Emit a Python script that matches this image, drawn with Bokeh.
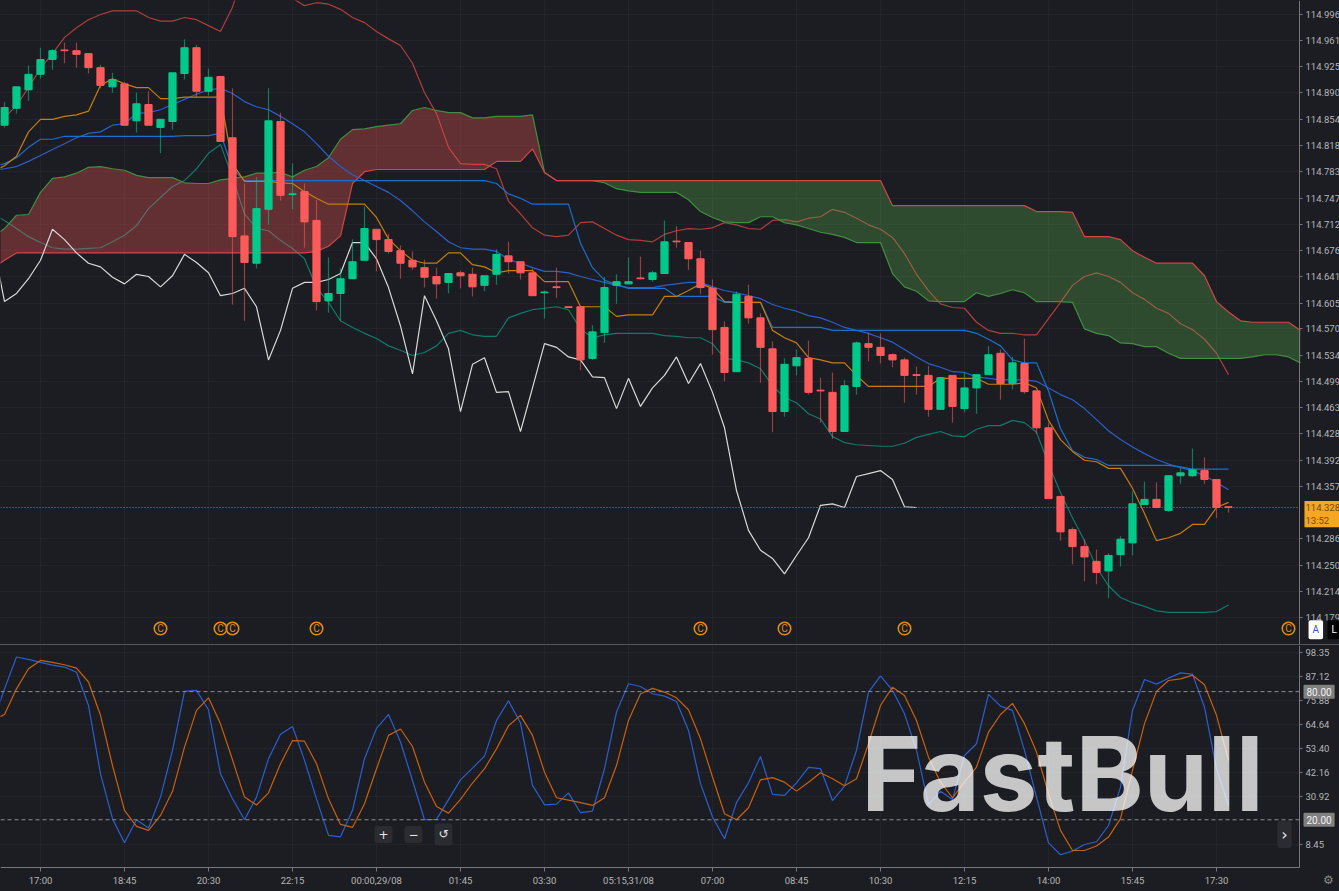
from bokeh.core.properties import value
from bokeh.embed import file_html
from bokeh.layouts import column
from bokeh.models import BoxAnnotation, FixedTicker, GlobalInlineStyleSheet, Label, LinearAxis, PrintfTickFormatter, Range1d
from bokeh.plotting import figure
from bokeh.resources import INLINE
import numpy as np

# 15 minute bars, bar 0 is the first one on screen
open_ = [114.846,114.869,114.894,114.915,114.935,114.948,114.947,114.943,114.924,114.898,
         114.902,114.852,114.874,114.843,114.851,114.916,114.951,114.892,114.912,114.829,
         114.696,114.659,114.732,114.851,114.752,114.756,114.717,114.608,114.618,114.638,
         114.663,114.705,114.691,114.676,114.663,114.653,114.641,114.633,114.646,114.644,
         114.629,114.644,114.669,114.661,114.646,114.619,114.627,114.600,114.600,114.530,
         114.565,114.629,114.631,114.639,114.637,114.645,114.689,114.687,114.665,114.625,
         114.572,114.512,114.614,114.585,114.543,114.458,114.520,114.530,114.487,114.484,
         114.431,114.492,114.550,114.545,114.535,114.528,114.508,114.507,114.461,114.507,
         114.462,114.490,114.508,114.537,114.496,114.523,114.486,114.436,114.343,114.298,
         114.275,114.255,114.242,114.264,114.280,114.332,114.339,114.324,114.371,114.371,
         114.378,114.366,114.329]
high = [114.877,114.898,114.927,114.951,114.949,114.958,114.958,114.943,114.928,114.917,
        114.905,114.890,114.892,114.854,114.917,114.962,114.955,114.923,114.913,114.896,
        114.767,114.776,114.896,114.863,114.794,114.767,114.745,114.667,114.652,114.691,
        114.736,114.705,114.699,114.683,114.675,114.664,114.653,114.645,114.649,114.653,
        114.642,114.678,114.688,114.661,114.652,114.622,114.653,114.600,114.600,114.575,
        114.640,114.644,114.667,114.668,114.649,114.717,114.709,114.687,114.676,114.637,
        114.580,114.621,114.630,114.591,114.553,114.530,114.542,114.554,114.504,114.511,
        114.501,114.553,114.565,114.564,114.537,114.531,114.519,114.520,114.505,114.507,
        114.511,114.508,114.547,114.542,114.532,114.557,114.486,114.443,114.343,114.301,
        114.285,114.271,114.266,114.289,114.350,114.363,114.362,114.371,114.382,114.408,
        114.396,114.366,114.329]
low = [114.843,114.862,114.879,114.909,114.921,114.930,114.924,114.916,114.896,114.890,
       114.846,114.836,114.846,114.808,114.840,114.908,114.884,114.886,114.824,114.603,
       114.581,114.652,114.711,114.744,114.732,114.680,114.595,114.592,114.581,114.638,
       114.663,114.648,114.672,114.638,114.650,114.626,114.611,114.618,114.625,114.614,
       114.621,114.630,114.645,114.637,114.615,114.584,114.612,114.599,114.514,114.528,
       114.551,114.604,114.631,114.637,114.634,114.645,114.680,114.650,114.617,114.535,
       114.499,114.512,114.577,114.497,114.430,114.451,114.507,114.481,114.443,114.421,
       114.431,114.481,114.526,114.523,114.518,114.470,114.481,114.451,114.461,114.443,
       114.457,114.455,114.508,114.474,114.488,114.482,114.428,114.340,114.283,114.251,
       114.228,114.224,114.205,114.248,114.263,114.332,114.327,114.322,114.360,114.369,
       114.360,114.314,114.321]
close = [114.870,114.898,114.915,114.935,114.947,114.947,114.942,114.924,114.900,114.908,
         114.846,114.875,114.846,114.854,114.917,114.951,114.892,114.911,114.824,114.695,
         114.660,114.733,114.852,114.751,114.753,114.715,114.607,114.618,114.638,114.661,
         114.706,114.691,114.675,114.659,114.654,114.640,114.631,114.645,114.642,114.627,
         114.642,114.671,114.661,114.646,114.615,114.620,114.626,114.599,114.528,114.566,
         114.626,114.634,114.634,114.638,114.646,114.688,114.688,114.665,114.626,114.569,
         114.511,114.617,114.585,114.545,114.458,114.522,114.531,114.484,114.486,114.431,
         114.493,114.551,114.545,114.534,114.528,114.507,114.507,114.461,114.504,114.465,
         114.490,114.508,114.535,114.496,114.524,114.485,114.436,114.340,114.295,114.275,
         114.261,114.240,114.263,114.285,114.333,114.339,114.328,114.371,114.375,114.379,
         114.366,114.328,114.328]

# indicator series start one bar earlier, off the left edge
bb_upper = [114.842,114.856,114.873,114.897,114.923,114.943,114.965,114.978,114.989,114.996,115.001,
            115.001,115.001,114.992,114.987,114.987,114.992,114.989,114.981,114.973,115.006,
            115.056,115.069,115.076,115.056,115.018,115.008,115.012,115.010,115.003,114.992,
            114.985,114.973,114.963,114.954,114.930,114.890,114.862,114.816,114.794,114.793,
            114.793,114.787,114.743,114.726,114.707,114.697,114.695,114.697,114.714,114.715,
            114.706,114.697,114.691,114.690,114.688,114.698,114.703,114.706,114.705,114.707,
            114.714,114.711,114.706,114.705,114.717,114.718,114.715,114.720,114.722,114.732,
            114.728,114.720,114.711,114.705,114.694,114.672,114.644,114.622,114.604,114.599,
            114.598,114.579,114.568,114.564,114.564,114.562,114.562,114.584,114.606,114.629,
            114.641,114.646,114.641,114.633,114.619,114.610,114.598,114.591,114.577,114.569,
            114.556,114.537,114.508]
bb_mid = [114.785,114.787,114.790,114.797,114.805,114.813,114.821,114.829,114.835,114.837,114.846,
          114.848,114.862,114.863,114.867,114.874,114.881,114.888,114.894,114.896,114.889,
          114.878,114.871,114.867,114.858,114.848,114.837,114.821,114.804,114.790,114.779,
          114.771,114.763,114.755,114.744,114.730,114.715,114.702,114.688,114.680,114.678,
          114.678,114.675,114.664,114.659,114.653,114.648,114.648,114.646,114.641,114.637,
          114.633,114.629,114.626,114.626,114.626,114.629,114.631,114.633,114.633,114.627,
          114.622,114.619,114.615,114.611,114.603,114.598,114.594,114.588,114.585,114.579,
          114.572,114.568,114.564,114.558,114.552,114.542,114.532,114.523,114.518,114.512,
          114.511,114.505,114.503,114.501,114.501,114.501,114.499,114.490,114.481,114.474,
          114.462,114.447,114.432,114.420,114.410,114.401,114.393,114.387,114.382,114.378,
          114.371,114.362,114.352]
bb_lower = [114.725,114.717,114.706,114.695,114.687,114.680,114.678,114.678,114.679,114.680,114.688,
            114.697,114.710,114.733,114.748,114.763,114.771,114.787,114.808,114.820,114.775,
            114.726,114.706,114.703,114.690,114.679,114.665,114.626,114.606,114.581,114.572,
            114.564,114.557,114.547,114.541,114.534,114.538,114.547,114.564,114.568,114.562,
            114.560,114.560,114.585,114.591,114.596,114.598,114.600,114.596,114.570,114.558,
            114.562,114.564,114.564,114.564,114.564,114.561,114.560,114.558,114.558,114.550,
            114.530,114.528,114.524,114.516,114.493,114.477,114.470,114.455,114.448,114.424,
            114.416,114.413,114.412,114.411,114.411,114.415,114.423,114.427,114.431,114.425,
            114.424,114.434,114.439,114.439,114.446,114.443,114.430,114.387,114.348,114.314,
            114.283,114.247,114.222,114.206,114.199,114.194,114.188,114.186,114.186,114.186,
            114.186,114.187,114.196]
tenkan = [114.783,114.791,114.804,114.837,114.854,114.854,114.858,114.860,114.865,114.900,114.909,
          114.902,114.897,114.897,114.882,114.882,114.884,114.884,114.884,114.884,114.794,
          114.770,114.770,114.770,114.768,114.767,114.756,114.747,114.739,114.739,114.739,
          114.739,114.721,114.692,114.676,114.663,114.659,114.659,114.673,114.673,114.657,
          114.654,114.646,114.649,114.649,114.649,114.634,114.634,114.634,114.600,114.600,
          114.600,114.587,114.589,114.589,114.589,114.614,114.614,114.622,114.631,114.625,
          114.607,114.606,114.606,114.606,114.568,114.558,114.551,114.531,114.528,114.524,
          114.524,114.507,114.492,114.492,114.492,114.492,114.492,114.492,114.503,114.503,
          114.503,114.503,114.495,114.495,114.495,114.497,114.490,114.446,114.420,114.404,
          114.392,114.390,114.381,114.381,114.354,114.320,114.283,114.287,114.293,114.305,
          114.305,114.328,114.335]
kijun = [114.789,114.794,114.802,114.816,114.827,114.827,114.831,114.831,114.831,114.831,114.831,
         114.831,114.831,114.831,114.831,114.831,114.832,114.832,114.832,114.835,114.787,
         114.771,114.771,114.771,114.771,114.771,114.771,114.771,114.771,114.771,114.771,
         114.771,114.771,114.771,114.771,114.771,114.771,114.771,114.771,114.771,114.771,
         114.771,114.767,114.753,114.747,114.739,114.739,114.739,114.739,114.686,114.653,
         114.636,114.630,114.625,114.625,114.625,114.625,114.614,114.614,114.614,114.614,
         114.606,114.606,114.606,114.606,114.572,114.572,114.572,114.572,114.572,114.568,
         114.568,114.568,114.568,114.568,114.568,114.568,114.568,114.568,114.568,114.568,
         114.568,114.564,114.556,114.547,114.528,114.524,114.524,114.486,114.435,114.405,
         114.396,114.393,114.385,114.385,114.385,114.385,114.385,114.385,114.383,114.380,
         114.380,114.380,114.380]
chikou = [114.690,114.607,114.618,114.638,114.663,114.705,114.691,114.673,114.659,114.654,114.640,
          114.631,114.644,114.641,114.627,114.642,114.671,114.660,114.646,114.615,114.618,
          114.625,114.600,114.528,114.568,114.625,114.633,114.633,114.637,114.645,114.687,
          114.687,114.665,114.626,114.574,114.509,114.615,114.581,114.543,114.458,114.522,
          114.531,114.484,114.485,114.431,114.490,114.550,114.545,114.532,114.528,114.505,
          114.504,114.462,114.503,114.465,114.490,114.507,114.532,114.496,114.523,114.484,
          114.436,114.351,114.297,114.270,114.259,114.238,114.263,114.287,114.331,114.333,
          114.328,114.370,114.374,114.378,114.366,114.329,114.328]
span_green = [114.694,114.706,114.724,114.725,114.755,114.774,114.776,114.781,114.789,114.790,114.787,
              114.785,114.778,114.775,114.775,114.775,114.768,114.767,114.767,114.772,114.774,
              114.776,114.781,114.781,114.782,114.776,114.785,114.790,114.802,114.827,114.840,
              114.841,114.844,114.846,114.848,114.866,114.870,114.866,114.863,114.863,114.856,
              114.856,114.858,114.858,114.858,114.860,114.782,114.771,114.771,114.771,114.771,
              114.768,114.760,114.757,114.755,114.755,114.755,114.755,114.745,114.729,114.721,
              114.715,114.714,114.714,114.722,114.722,114.714,114.711,114.706,114.701,114.698,
              114.694,114.687,114.687,114.687,114.645,114.627,114.621,114.608,114.607,114.607,
              114.607,114.619,114.614,114.618,114.623,114.619,114.607,114.607,114.607,114.606,
              114.570,114.564,114.561,114.551,114.550,114.546,114.546,114.537,114.530,114.530,
              114.530,114.530,114.530,114.530,114.532,114.535,114.535,114.532,114.524]
span_red = [114.652,114.663,114.673,114.673,114.673,114.673,114.673,114.673,114.673,114.673,114.673,
            114.673,114.673,114.673,114.673,114.673,114.673,114.673,114.673,114.673,114.673,
            114.673,114.673,114.673,114.673,114.673,114.673,114.675,114.682,114.696,114.767,
            114.783,114.786,114.786,114.786,114.786,114.786,114.786,114.786,114.786,114.786,
            114.786,114.797,114.797,114.797,114.814,114.782,114.771,114.771,114.771,114.771,
            114.771,114.771,114.771,114.771,114.771,114.771,114.771,114.771,114.771,114.771,
            114.771,114.771,114.771,114.771,114.771,114.771,114.771,114.771,114.771,114.771,
            114.771,114.771,114.771,114.771,114.737,114.737,114.737,114.737,114.737,114.737,
            114.737,114.737,114.737,114.737,114.737,114.737,114.729,114.729,114.729,114.728,
            114.695,114.695,114.695,114.691,114.676,114.667,114.659,114.659,114.659,114.659,
            114.642,114.607,114.593,114.581,114.579,114.579,114.579,114.579,114.568]
cross_bar = 45

stoch_k = [65.0,81.3,96.2,95.1,93.7,92.4,91.5,89.1,73.5,41.5,20.5,9.2,20.0,16.1,30.6,52.5,80.1,80.6,71.5,41.5,29.8,
           20.0,30.6,48.6,60.0,63.7,47.8,29.8,12.7,12.0,24.4,48.6,62.8,69.3,56.4,38.4,20.0,20.2,29.4,38.7,44.2,
           49.8,66.5,75.7,65.3,36.1,27.0,27.3,32.6,23.3,24.0,43.9,70.4,83.7,82.4,79.0,77.9,75.4,61.8,36.9,21.3,
           11.1,28.0,37.3,49.6,31.9,31.4,37.3,44.5,43.9,29.0,35.8,52.5,79.8,87.4,80.6,69.6,52.5,27.2,33.3,29.5,
           50.1,55.6,78.7,73.2,71.2,52.5,30.6,9.2,3.6,5.3,8.4,9.7,17.3,35.3,71.2,85.7,83.5,86.3,88.8,88.2,72.7,43.9,26.7]
stoch_d = [66.5,69.3,81.3,90.7,94.6,93.7,92.6,91.0,84.5,68.9,45.4,24.4,16.9,15.0,22.0,33.3,54.0,71.2,77.1,64.9,48.1,
           30.6,26.9,32.6,46.2,57.1,56.8,46.2,29.8,17.8,16.4,27.5,43.9,59.5,62.5,54.3,37.6,26.2,23.1,29.5,37.2,
           43.9,53.2,64.0,68.9,59.5,42.3,30.3,29.2,28.0,26.7,30.3,45.4,66.5,79.0,81.5,79.8,77.1,71.5,57.9,40.0,
           22.8,20.0,25.6,38.7,39.7,37.6,33.4,37.6,42.0,39.2,35.9,39.2,55.6,73.5,82.1,78.2,66.5,49.3,37.6,30.3,
           37.6,44.7,61.0,69.3,74.5,65.0,51.7,32.2,15.0,5.6,5.6,7.7,11.9,20.5,43.1,65.0,80.1,85.2,86.0,87.7,83.2,68.9,47.8]

price_ticks = [114.996,114.961,114.925,114.890,114.854,114.818,114.783,114.747,114.712,114.676,114.641,
               114.605,114.570,114.534,114.499,114.463,114.428,114.392,114.357,114.286,114.250,114.214,114.179]
stoch_ticks = [98.35,87.12,75.88,64.64,53.40,42.16,30.92,8.45]
time_bars = [3,10,17,24,31,38,45,52,59,66,73,80,87,94,101]
time_labels = ["17:00","18:45","20:30","22:15","00:00,29/08","01:45","03:30","05:15,31/08",
               "07:00","08:45","10:30","12:15","14:00","15:45","17:30"]
c_bars = [13,18,19,26,58,65,75,107]
last_price = 114.328

BG = "#1c1d22"
UP = "#00c98a"
DOWN = "#ff5a5a"
AXIS = "#76777b"
TICK_TEXT = "#b4b5b8"
GRID = "#232429"
FONT = "Roboto"
LW = 1.2

# the frame runs to the page edge, the price axis sits inside it at bar 107.92
X_LEFT, AXIS_X, X_RIGHT = -0.3333, 107.9167, 111.25
P_BOTTOM, P_TOP = 114.141, 115.015
Q_BOTTOM, Q_AXIS, Q_TOP = -13.6, -2.3, 101.6


def series_x(vals):
    return np.arange(len(vals)) - 1


def style_axis(axis, size="9.5px"):
    axis.axis_line_color = AXIS
    axis.major_tick_line_color = AXIS
    axis.major_tick_out = 3
    axis.major_tick_in = 0
    axis.minor_tick_line_color = None
    axis.major_label_standoff = 3
    axis.major_label_text_color = TICK_TEXT
    axis.major_label_text_font = FONT
    axis.major_label_text_font_size = size


def style(p, ticks, fmt, y_bottom, y_top, y_bounds):
    p.background_fill_color = BG
    p.border_fill_color = BG
    p.outline_line_color = None
    axis = LinearAxis(fixed_location=AXIS_X, ticker=FixedTicker(ticks=ticks),
                      formatter=PrintfTickFormatter(format=fmt), bounds=y_bounds)
    style_axis(axis)
    p.add_layout(axis, "right")
    p.xgrid.ticker = FixedTicker(ticks=time_bars)
    p.ygrid.ticker = FixedTicker(ticks=ticks)
    p.xgrid.grid_line_color = GRID
    p.ygrid.grid_line_color = GRID
    # keep the grid out of the strip behind the axis labels
    p.quad(left=AXIS_X, right=X_RIGHT, bottom=y_bottom, top=y_top, fill_color=BG, line_color=None)


x_range = Range1d(X_LEFT, X_RIGHT)

p = figure(width=1339, height=645, x_range=x_range, y_range=Range1d(P_BOTTOM, P_TOP),
           x_axis_location=None, y_axis_location=None, output_backend="svg", toolbar_location=None,
           min_border_left=0, min_border_top=0, min_border_bottom=0, min_border_right=0)
style(p, price_ticks, "%.3f", P_BOTTOM, P_TOP, "auto")

p.line(series_x(bb_upper), bb_upper, line_color="#b23c3c", line_width=LW)
p.line(series_x(bb_lower), bb_lower, line_color="#0f7a6c", line_width=LW)

# cloud, the two spans swap over at cross_bar
cut = cross_bar + 2
sx = series_x(span_green)
p.varea(sx[:cut], span_red[:cut], span_green[:cut], fill_color="#ff5858", fill_alpha=0.31)
p.varea(sx[cut - 1:], span_green[cut - 1:], span_red[cut - 1:], fill_color="#58b351", fill_alpha=0.3)
p.line(sx, span_green, line_color="#3f8f3f", line_width=LW)
p.line(sx, span_red, line_color="#d64545", line_width=LW)

p.line(series_x(bb_mid), bb_mid, line_color="#2a5fd0", line_width=LW)
p.line(series_x(kijun), kijun, line_color="#1a6fd0", line_width=LW)
p.line(series_x(tenkan), tenkan, line_color="#c47d0e", line_width=LW)
p.line(series_x(chikou), chikou, line_color="#d8d8d8", line_width=LW)

bars = np.arange(len(close))
colors = [UP if c >= o else DOWN for o, c in zip(open_, close)]
p.segment(bars, high, bars, low, line_color=colors, line_alpha=0.55, line_width=LW)
p.vbar(bars, 0.6, open_, close, fill_color=colors, line_color=colors, line_width=1)

p.line([X_LEFT, AXIS_X], [last_price, last_price], line_color="#b57f22", line_dash="1 2", line_width=1)

c_y = [114.164] * len(c_bars)
p.scatter(c_bars, c_y, marker="circle", size=12.5, fill_alpha=0, line_color="#e68a0a", line_width=1.6)
p.text(c_bars, c_y, text=["C"] * len(c_bars), text_color="#e68a0a", text_font=value("Roboto"),
       text_font_size="10px", text_align="center", text_baseline="middle")

# the last tick label is half hidden in the original
p.add_layout(BoxAnnotation(left=AXIS_X + 0.05, right=X_RIGHT, bottom=P_BOTTOM, top=114.175,
                           fill_color=BG, fill_alpha=1, line_color=None, level="overlay"))
p.add_layout(Label(x=108.33, y=114.319, text="114.328\n13:52", text_color="#6e4d10", text_font=FONT,
                   text_font_size="9.5px", text_align="left", text_baseline="middle",
                   background_fill_color="#f5a623", padding=1, level="overlay"))
p.add_layout(Label(x=108.67, y=114.1625, text="A", text_color="#2a5fd0", text_font=FONT, text_font_size="10px",
                   text_align="left", text_baseline="middle", background_fill_color="#ffffff",
                   padding=4, border_radius=2, level="overlay"))
p.add_layout(Label(x=110.25, y=114.1625, text="L", text_color="#ffffff", text_font=FONT, text_font_size="10px",
                   text_align="left", text_baseline="middle", background_fill_color="#000000",
                   padding=4, border_radius=2, level="overlay"))

q = figure(width=1339, height=246, x_range=x_range, y_range=Range1d(Q_BOTTOM, Q_TOP),
           x_axis_location=None, y_axis_location=None, output_backend="svg", toolbar_location=None,
           min_border_left=0, min_border_top=0, min_border_bottom=0, min_border_right=0,
           styles={"box-shadow": "0 -1px 0 #55565a"})
style(q, stoch_ticks, "%.2f", Q_BOTTOM, Q_TOP, (Q_AXIS, Q_TOP))
q.quad(left=X_LEFT, right=AXIS_X, bottom=Q_BOTTOM, top=Q_AXIS, fill_color=BG, line_color=None)

time_axis = LinearAxis(fixed_location=Q_AXIS, ticker=FixedTicker(ticks=time_bars), bounds=(X_LEFT, AXIS_X),
                       major_label_overrides=dict(zip(time_bars, time_labels)))
style_axis(time_axis)
time_axis.major_tick_out = 4
time_axis.major_label_standoff = 4
q.add_layout(time_axis, "below")

q.line(series_x(stoch_k), stoch_k, line_color="#2a5fd0", line_width=LW)
q.line(series_x(stoch_d), stoch_d, line_color="#c8600f", line_width=LW)
for level in [80, 20]:
    q.line([X_LEFT, AXIS_X], [level, level], line_color="#8e8e8e", line_dash="4 3", line_width=1)
    q.add_layout(Label(x=108.25, y=level, text="%.2f" % level, text_color="#f2f2f2", text_font=FONT,
                       text_font_size="10px", text_align="left", text_baseline="middle",
                       background_fill_color="#808080", padding=3, border_radius=1, level="overlay"))

for x, sym, size in [(31.58, "+", "12px"), (34.08, "\u2212", "12px"), (36.58, "\u21ba", "12px"), (106.67, "\u203a", "16px")]:
    q.add_layout(Label(x=x, y=13.1, text=sym, text_color="#e6e6e6", text_font="DejaVu Sans", text_font_size=size,
                       text_align="center", text_baseline="middle", background_fill_color="#2b2c31",
                       padding=4, border_radius=3))
q.add_layout(Label(x=110.33, y=-8.4, text="\u2699", text_color="#8a8a8a", text_font="DejaVu Sans",
                   text_font_size="12px", text_align="center", text_baseline="middle"))

q.add_layout(Label(x=71.4, y=41.5, text="FastBull", text_color="#ffffff", text_alpha=0.75, text_font="Inter",
                   text_align="left", text_font_style="bold", text_font_size="103px", text_baseline="middle"))

page = column(p, q, spacing=0,
              stylesheets=[GlobalInlineStyleSheet(css="body{margin:0;background:#1c1d22;overflow:hidden}")])

open("out.html", "w").write(file_html(page, INLINE))
